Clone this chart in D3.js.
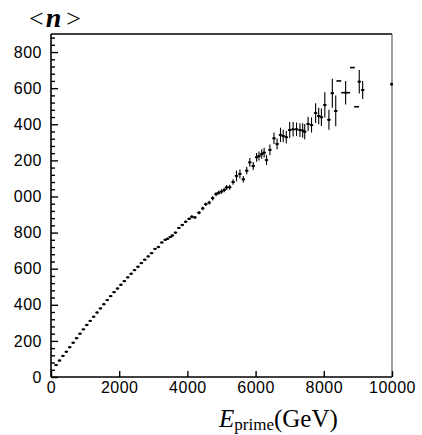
<!DOCTYPE html>
<html><head><meta charset="utf-8">
<script src="https://cdn.jsdelivr.net/npm/d3@7"></script>
<style>body{margin:0;background:#fff}svg{display:block}</style>
</head><body><svg id="c" width="422" height="435"></svg>
<script>
// data
const energy = [150,250,350,450,550,650,750,850,950,1050,1150,1250,1350,1450,1550,1650,1750,1850,1950,2050,
 2150,2250,2350,2450,2550,2650,2750,2850,2950,3050,3150,3250,3350,3420,3500,3560,3650,3750,3850,3950,
 4050,4130,4220,4340,4450,4540,4640,4740,4840,4920,5000,5080,5150,5240,5340,5440,5540,5640,5740,5830,
 5930,6030,6100,6180,6250,6320,6420,6540,6630,6730,6810,6900,7000,7100,7200,7300,7380,7440,7540,7640,
 7760,7850,7930,8030,8150,8250,8350,8440,8640,8840,8960,9040,9140,9990];
const multiplicity = [66,91,117,140,165,190,215,240,264,288,311,334,357,380,403,426,448,470,490,511,
 531,552,572,592,611,631,650,668,686,710,720,745,760,766,776,784,800,826,842,860,
 876,888,884,910,934,957,966,990,1013,1021,1027,1036,1050,1051,1080,1114,1125,1095,1143,1189,
 1169,1217,1224,1235,1243,1202,1258,1322,1291,1341,1335,1328,1368,1372,1372,1368,1365,1359,1402,1396,
 1462,1446,1439,1507,1425,1572,1474,1640,1575,1714,1497,1636,1590,1622];
const errN = [2,2,2,2,2,2,2,2,2,2,2,2,2,2,2,2,2,2,2,2,
 2,2,2,2,2,2,2,2,2,3,3,3,3,3,3,4,4,5,6,6,
 7,8,8,9,10,10,11,12,12,12,13,13,14,14,15,30,25,18,20,24,
 22,24,25,26,27,28,30,32,30,40,34,35,44,40,38,38,40,42,40,42,
 55,46,48,70,55,80,85,0,65,0,0,65,50,10];
const errE = [50,50,50,50,50,50,50,50,50,50,50,50,50,50,50,50,50,50,50,50,
 50,50,50,50,50,50,50,50,50,50,50,50,50,50,50,50,50,50,50,50,
 50,50,50,50,50,50,50,50,50,50,50,50,50,50,50,50,50,50,50,50,
 50,50,50,50,50,50,50,50,50,50,50,50,50,50,50,50,50,50,50,50,
 50,50,50,50,50,50,50,70,130,70,70,50,50,40];
const xTicks = [0,2000,4000,6000,8000,10000];
const yTicks = [0,200,400,600,800,1000,1200,1400,1600,1800];
const yTickLabels = ["0","200","400","600","800","000","200","400","600","800"];

const svg = d3.select("#c");
const x = d3.scaleLinear().domain([0,10000]).range([51,392]);
const y = d3.scaleLinear().domain([0,1900]).range([377,34]);

// frame
const g = svg.append("g");
g.append("line").attr("x1",51).attr("x2",51).attr("y1",34).attr("y2",377).attr("stroke","#000").attr("stroke-width",1.6);
g.append("line").attr("x1",51).attr("x2",392).attr("y1",34).attr("y2",34).attr("stroke","#000").attr("stroke-width",1.6);
g.append("line").attr("x1",51).attr("x2",392).attr("y1",377).attr("y2",377).attr("stroke","#000").attr("stroke-width",1.4);
g.append("line").attr("x1",392).attr("x2",392).attr("y1",34).attr("y2",377).attr("stroke","#555").attr("stroke-width",1.1);

const font = "'Liberation Sans', Arial, sans-serif";

// y axis
const yAx = svg.append("g").attr("transform","translate(51,0)")
  .call(d3.axisLeft(y).tickValues(yTicks).tickSize(-7).tickPadding(9)
    .tickFormat((d,i)=>yTickLabels[i]));
const yMinor = svg.append("g").attr("transform","translate(51,0)")
  .call(d3.axisLeft(y).tickValues(d3.range(0,1900,40).filter(v=>v%200)).tickSize(-4).tickFormat(""));
// x axis
const xAx = svg.append("g").attr("transform","translate(0,377)")
  .call(d3.axisBottom(x).tickValues(xTicks).tickSize(-6).tickPadding(5).tickFormat(d3.format("d")));
[yAx,yMinor,xAx].forEach(a=>{
  a.select(".domain").remove();
  a.selectAll("line").attr("stroke","#000").attr("stroke-width",1.4);
  a.selectAll("text").attr("font-family",font).attr("font-size",16).attr("fill","#000").attr("letter-spacing","0.5px");
});

// data
const data = energy.map((e,i)=>({e, n:multiplicity[i], en:errN[i], ee:errE[i]}));
const pts = svg.append("g");
pts.selectAll("line.h").data(data).join("line").attr("class","h")
  .attr("x1",d=>x(d.e-d.ee)).attr("x2",d=>x(d.e+d.ee))
  .attr("y1",d=>y(d.n)).attr("y2",d=>y(d.n))
  .attr("stroke","#000").attr("stroke-width",1.6);
pts.selectAll("line.v").data(data.filter(d=>d.en>2)).join("line").attr("class","v")
  .attr("x1",d=>x(d.e)).attr("x2",d=>x(d.e))
  .attr("y1",d=>y(d.n-d.en)).attr("y2",d=>y(d.n+d.en))
  .attr("stroke","#000").attr("stroke-width",1.1);
pts.selectAll("circle").data(data.filter(d=>d.en>0)).join("circle")
  .attr("cx",d=>x(d.e)).attr("cy",d=>y(d.n)).attr("r",1.2).attr("fill","#000");

// title
const t = svg.append("text").attr("x",29).attr("y",27)
  .attr("font-family","'Liberation Serif', 'Times New Roman', serif").attr("font-size",26).attr("fill","#000");
t.append("tspan").text("<");
t.append("tspan").attr("dx",2).attr("font-style","italic").attr("font-weight","bold").attr("font-size",28).text("n");
t.append("tspan").attr("dx",5).text(">");

// x label
const xl = svg.append("text").attr("x",219).attr("y",427)
  .attr("font-family","'Liberation Serif', 'Times New Roman', serif").attr("font-size",25).attr("fill","#000");
xl.append("tspan").attr("font-style","italic").text("E");
xl.append("tspan").attr("font-size",17).attr("dy",3).text("prime");
xl.append("tspan").attr("dy",-3).text("(GeV)");
</script>
</body></html>
